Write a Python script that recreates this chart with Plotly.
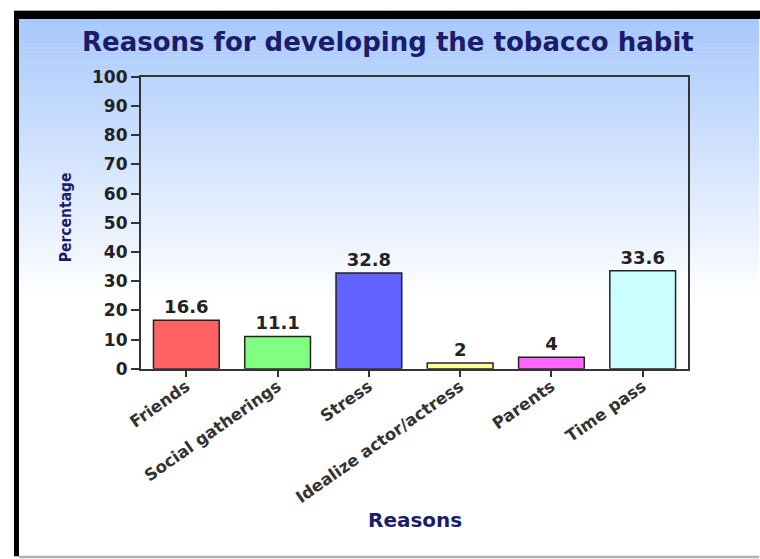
import plotly.graph_objects as go

categories = ["Friends", "Social gatherings", "Stress", "Idealize actor/actress", "Parents", "Time pass"]
values = [16.6, 11.1, 32.8, 2, 4, 33.6]
bar_colors = ["#ff6262", "#80ff80", "#6262ff", "#ffff99", "#ff66ff", "#ccffff"]
y_ticks = list(range(0, 101, 10))

# The photographed page shows the figure offset and slightly scaled;
# positions below are given in target-picture pixels and mapped to figure pixels.
OX, OY = 12.0, 8.0
SX, SY = 0.984, 0.968
W, H = 760, 570

def px(X):
    return ((X - OX) / SX) / W

def py(Y):
    return 1 - ((Y - OY) / SY) / H

fig = go.Figure()
fig.add_trace(go.Bar(
    x=categories, y=values,
    marker=dict(color=bar_colors, line=dict(color="#222222", width=1.5)),
    width=0.72,
    text=[f"{v:g}" for v in values],
    textposition="outside",
    textfont=dict(family="DejaVu Sans", size=18, color="#222222", weight="bold"),
    cliponaxis=False,
))

shapes = []
# gradient background (light blue at top fading to white)
top, bottom_fade = 17, 300
steps = 70
c0 = (168, 201, 252)
for i in range(steps):
    y0 = top + (bottom_fade - top) * i / steps
    y1 = top + (bottom_fade - top) * (i + 1) / steps + 0.6
    t = i / (steps - 1)
    c = tuple(int(round(c0[k] + (255 - c0[k]) * t)) for k in range(3))
    shapes.append(dict(type="rect", xref="paper", yref="paper", x0=px(17), x1=px(759),
                       y0=py(y0), y1=py(y1), fillcolor=f"rgb{c}", line=dict(width=0), layer="below"))
# frame borders
shapes.append(dict(type="rect", xref="paper", yref="paper", x0=0, x1=1, y0=py(9), y1=1,
                   fillcolor="#aaaaaa", line=dict(width=0), layer="below"))
shapes.append(dict(type="rect", xref="paper", yref="paper", x0=0, x1=px(760), y0=py(17), y1=py(9),
                   fillcolor="#000000", line=dict(width=0), layer="below"))
shapes.append(dict(type="rect", xref="paper", yref="paper", x0=0, x1=px(17), y0=py(556), y1=py(9),
                   fillcolor="#000000", line=dict(width=0), layer="below"))
shapes.append(dict(type="rect", xref="paper", yref="paper", x0=px(17), x1=px(759), y0=py(558), y1=py(555.5),
                   fillcolor="#b0b0b0", line=dict(width=0), layer="below"))

fig.update_layout(
    width=W, height=H,
    margin=dict(l=0, r=0, t=0, b=0),
    paper_bgcolor="white",
    plot_bgcolor="rgba(0,0,0,0)",
    showlegend=False,
    shapes=shapes,
    bargap=0.28,
    xaxis=dict(
        domain=[px(139), px(688)],
        showline=True, linecolor="#333333", linewidth=1.5, mirror=True,
        ticks="outside", ticklen=6, tickcolor="#333333", tickwidth=1.5,
        tickangle=-35,
        ticklabelstandoff=-6,
        tickfont=dict(family="DejaVu Sans", size=16.5, color="#333333", weight="bold"),
        showgrid=False,
    ),
    yaxis=dict(
        domain=[py(368), py(75)],
        range=[0, 100],
        tickvals=y_ticks,
        showline=True, linecolor="#333333", linewidth=1.5, mirror=True,
        ticks="outside", ticklen=8, tickcolor="#333333", tickwidth=1.5,
        tickfont=dict(family="DejaVu Sans", size=17, color="#222222", weight="bold"),
        showgrid=False, zeroline=False,
    ),
    annotations=[
        dict(text="Reasons for developing the tobacco habit", xref="paper", yref="paper",
             x=px(387), y=py(40), showarrow=False, xanchor="center", yanchor="middle",
             font=dict(family="DejaVu Sans", size=26, color="#1c1c6c", weight="bold")),
        dict(text="Percentage", xref="paper", yref="paper", x=px(64), y=py(216),
             showarrow=False, textangle=-90, xanchor="center", yanchor="middle",
             font=dict(family="DejaVu Sans Condensed", size=15.5, color="#1c1c6c", weight="bold")),
        dict(text="Reasons", xref="paper", yref="paper", x=px(414), y=py(520),
             showarrow=False, xanchor="center", yanchor="middle",
             font=dict(family="DejaVu Sans", size=20, color="#1c1c6c", weight="bold")),
    ],
)

fig.write_html("out.html")
